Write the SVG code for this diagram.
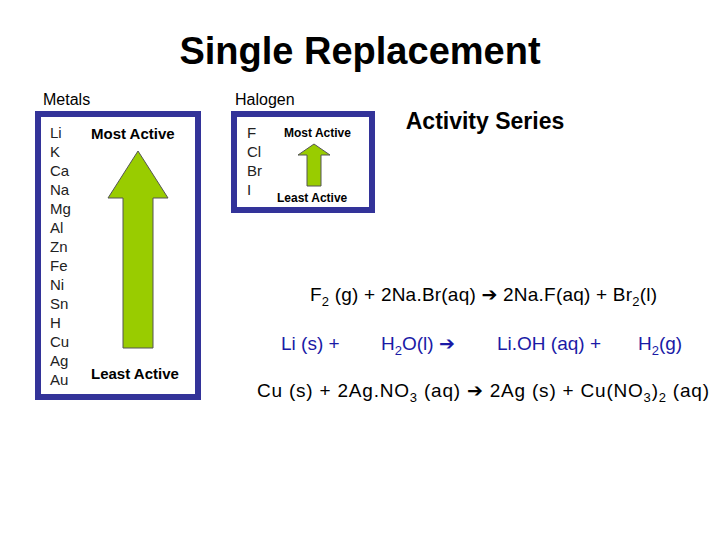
<svg xmlns="http://www.w3.org/2000/svg" width="720" height="540" viewBox="0 0 720 540">
<style>
text{font-family:"Liberation Sans",Arial,sans-serif}
.box{fill:#fff;stroke:#333399;stroke-width:6}
.el{font-size:15px;fill:#222}
.b{font-weight:bold;fill:#000}
.arr{fill:#99cc00;stroke:#555;stroke-width:1}
.eq{font-size:19px;fill:#000}
.bl{fill:#1a1aa6}
.sym{font-family:"DejaVu Sans",sans-serif;font-weight:bold}
.s{font-size:13px}
</style>
<rect width="720" height="540" fill="#fff"/>
<text x="360" y="64" text-anchor="middle" font-size="38" class="b">Single Replacement</text>
<text x="43" y="105" font-size="16">Metals</text>
<text x="235" y="105" font-size="16">Halogen</text>
<g id="metals">
<rect class="box" x="38" y="114" width="160" height="283"/>
<text class="el" x="50" y="138">Li</text><text class="el" x="50" y="157">K</text><text class="el" x="50" y="176">Ca</text><text class="el" x="50" y="195">Na</text><text class="el" x="50" y="214">Mg</text><text class="el" x="50" y="233">Al</text><text class="el" x="50" y="252">Zn</text><text class="el" x="50" y="271">Fe</text><text class="el" x="50" y="290">Ni</text><text class="el" x="50" y="309">Sn</text><text class="el" x="50" y="328">H</text><text class="el" x="50" y="347">Cu</text><text class="el" x="50" y="366">Ag</text><text class="el" x="50" y="385">Au</text>
<text class="b" x="91" y="139" font-size="15">Most Active</text>
<text class="b" x="91" y="379" font-size="15">Least Active</text>
<path class="arr" d="M138,151 L168,198 L153,198 L153,348 L123,348 L123,198 L108,198 Z"/>
</g>
<g id="halogen">
<rect class="box" x="234" y="114" width="138" height="96"/>
<text class="el" x="247" y="138">F</text><text class="el" x="247" y="157">Cl</text><text class="el" x="247" y="176">Br</text><text class="el" x="247" y="195">I</text>
<text class="b" x="284" y="137" font-size="12">Most Active</text>
<text class="b" x="277" y="202" font-size="12">Least Active</text>
<path class="arr" d="M314,144 L330,155 L321,155 L321,186 L307,186 L307,155 L298,155 Z"/>
</g>
<text x="485" y="129" text-anchor="middle" font-size="23" class="b">Activity Series</text>
<g id="equations" xml:space="preserve">
<text class="eq" x="310" y="301" textLength="347">F<tspan class="s" dy="5">2</tspan><tspan dy="-5"> (g) + 2Na.Br(aq) </tspan><tspan class="sym">➔</tspan> 2Na.F(aq) + Br<tspan class="s" dy="5">2</tspan><tspan dy="-5">(l)</tspan></text>
<text class="eq bl" x="281" y="350">Li (s) +</text>
<text class="eq bl" x="381" y="350">H<tspan class="s" dy="5">2</tspan><tspan dy="-5">O(l) </tspan><tspan class="sym">➔</tspan></text>
<text class="eq bl" x="497" y="350">Li.OH (aq) +</text>
<text class="eq bl" x="638" y="350">H<tspan class="s" dy="5">2</tspan><tspan dy="-5">(g)</tspan></text>
<text class="eq" x="257" y="397" textLength="452">Cu (s)  +  2Ag.NO<tspan class="s" dy="5">3</tspan><tspan dy="-5"> (aq) </tspan><tspan class="sym">➔</tspan>  2Ag (s) + Cu(NO<tspan class="s" dy="5">3</tspan><tspan dy="-5">)</tspan><tspan class="s" dy="5">2</tspan><tspan dy="-5"> (aq)</tspan></text>
</g>
</svg>
